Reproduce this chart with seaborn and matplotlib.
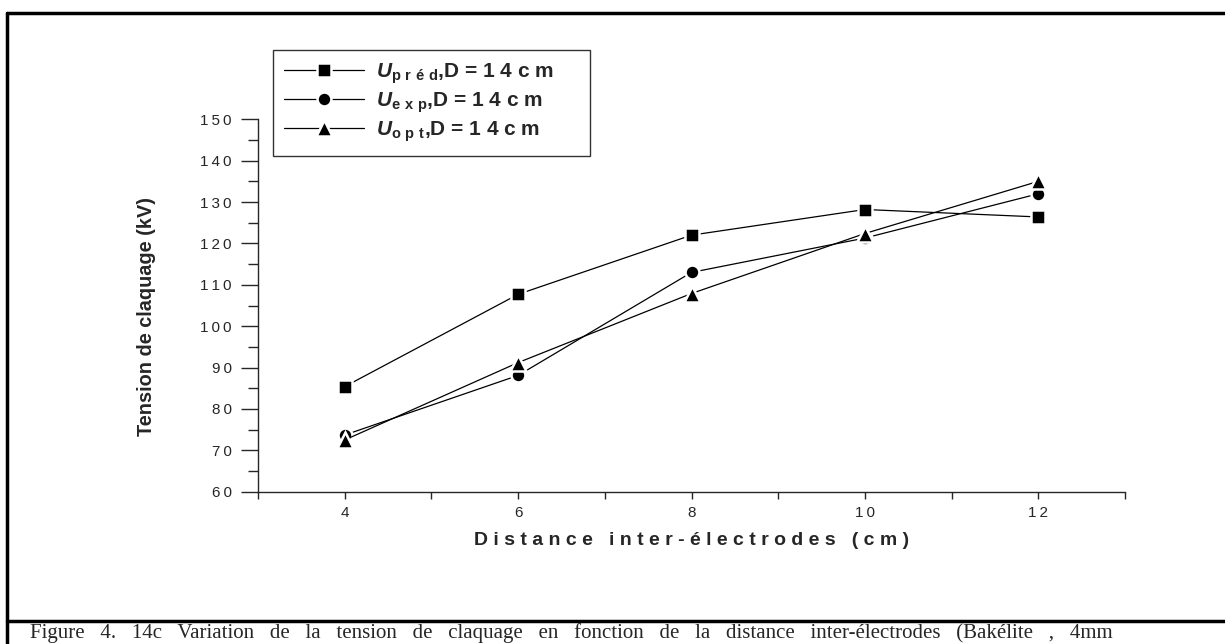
import matplotlib
matplotlib.use("Agg")
import matplotlib.pyplot as plt
from matplotlib.ticker import MultipleLocator, FuncFormatter
from matplotlib.lines import Line2D
import seaborn as sns

# values
distance = [4, 6, 8, 10, 12]
u_pred = [85.4, 107.7, 122.0, 128.2, 126.4]
u_exp = [73.7, 88.1, 113.0, 121.3, 132.0]
u_opt = [72.5, 91.2, 107.9, 122.4, 135.0]

labels = [
    r"$\mathbfit{U}_{\mathbf{p\ r\ é\ d}}$" + ",D = 1 4 c m     ",
    r"$\mathbfit{U}_{\mathbf{e\ x\ p}}$" + ",D = 1 4 c m     ",
    r"$\mathbfit{U}_{\mathbf{o\ p\ t}}$" + ",D = 1 4 c m     ",
]
markers = ["s", "o", "^"]
msizes = [10, 10, 12]

sns.set_style("ticks")
plt.rcParams["font.family"] = ["Liberation Sans", "DejaVu Sans"]
plt.rcParams["mathtext.fontset"] = "custom"
plt.rcParams["mathtext.bf"] = "Liberation Sans:bold"
plt.rcParams["mathtext.bfit"] = "Liberation Sans:bold:italic"
plt.rcParams["mathtext.rm"] = "Liberation Sans"

fig = plt.figure(figsize=(12.25, 6.44), dpi=100)
ax = fig.add_axes([258 / 1225, 152.3 / 644, 867 / 1225, 372.4 / 644])

for ys, mk, ms, lab in zip([u_pred, u_exp, u_opt], markers, msizes, labels):
    sns.lineplot(x=distance, y=ys, ax=ax, color="black", linewidth=0.9,
                 marker=mk, markersize=ms, markeredgecolor="white",
                 markeredgewidth=1.8, markerfacecolor="black", label=lab)

ax.set_xlim(3, 13)
ax.set_ylim(60, 150)
ax.xaxis.set_major_locator(MultipleLocator(2))
ax.xaxis.set_minor_locator(MultipleLocator(1))
ax.yaxis.set_major_locator(MultipleLocator(10))
ax.yaxis.set_minor_locator(MultipleLocator(5))
spaced = FuncFormatter(lambda v, p: "\u2009".join(str(int(round(v)))))
ax.xaxis.set_major_formatter(spaced)
ax.yaxis.set_major_formatter(spaced)
ax.tick_params(axis="x", which="both", length=5, width=1, labelsize=11, pad=5)
ax.tick_params(axis="y", which="major", length=12, width=1, labelsize=11, pad=7)
ax.tick_params(axis="y", which="minor", length=7, width=1)
sns.despine(ax=ax)
for s in ["left", "bottom"]:
    ax.spines[s].set_linewidth(1)

ax.set_xlabel("D i s t a n c e   i n t e r - é l e c t r o d e s   ( c m )",
              fontsize=14, fontweight="bold", labelpad=9)
ax.set_ylabel("Tension de claquage (kV)", fontsize=14.3, fontweight="bold")
ax.yaxis.set_label_coords(-0.118, 0.47)

leg = ax.legend(loc="upper left", bbox_to_anchor=(273 / 1225, 1 - 50 / 644),
                bbox_transform=fig.transFigure, borderaxespad=0, frameon=True,
                fancybox=False, edgecolor="black",
                prop={"weight": "bold", "size": 15},
                handlelength=3.8, borderpad=0.55, labelspacing=0.2, handletextpad=0.6)
leg.get_frame().set_linewidth(1)

# page frame and caption
fig.add_artist(Line2D([7 / 1225, 7 / 1225], [0, 1 - 13 / 644], color="black", lw=2.5))
fig.add_artist(Line2D([7 / 1225, 1], [1 - 13 / 644, 1 - 13 / 644], color="black", lw=2.5))
fig.add_artist(Line2D([7 / 1225, 1], [1 - 621 / 644, 1 - 621 / 644], color="black", lw=2.5))
words = ["Figure", "4.", "14c", "Variation", "de", "la", "tension", "de", "claquage",
         "en", "fonction", "de", "la", "distance", "inter-électrodes", "(Bakélite", ",", "4mm"]
fig.text(30 / 1225, 1 - 623 / 644, "   ".join(words),
         family="Liberation Serif", fontsize=15, va="top", ha="left")

fig.savefig("out.png", dpi=100)
